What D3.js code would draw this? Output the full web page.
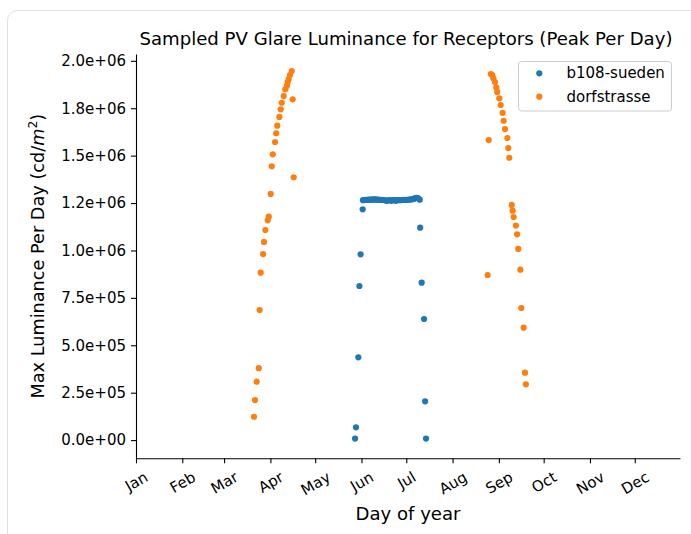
<!DOCTYPE html>
<html>
<head>
<meta charset="utf-8">
<script src="https://cdn.jsdelivr.net/npm/d3@7"></script>
<style>
  html, body { margin: 0; padding: 0; background: #fff; }
  svg { display: block; font-family: "DejaVu Sans", sans-serif; }
</style>
</head>
<body>
<svg id="chart" width="691" height="534"></svg>
<script>
// ---------------- data ----------------
const monthLabels = ["Jan","Feb","Mar","Apr","May","Jun","Jul","Aug","Sep","Oct","Nov","Dec"];
const monthStartDays = [0,31,59,90,120,151,181,212,243,273,304,334];
const yTickValues = [0,250000,500000,750000,1000000,1250000,1500000,1750000,2000000];
const yTickLabels = ["0.0e+00","2.5e+05","5.0e+05","7.5e+05","1.0e+06","1.2e+06","1.5e+06","1.8e+06","2.0e+06"];
const seriesNames = ["b108-sueden","dorfstrasse"];
const seriesColors = ["#1f77b4","#ff7f0e"];

const blueDays = [146.7,147.3,148.9,149.6,150.4,151.8,
  152,153,154,155,156,157,158,159,160,161,162,163,164,165,166,167,168,169,170,
  171,172,173,174,175,176,177,178,179,180,181,182,183,184,185,186,187,188,189,190,
  190.3,191.3,192.9,193.6,194.2];
const blueValues = [8000,67500,436600,812600,979800,1217000,
  1265000,1266000,1267000,1267000,1268000,1268000,1268000,1269000,1269000,1268000,
  1268000,1267000,1267000,1266000,1266000,1264000,1262000,1264000,1266000,
  1262000,1265000,1266000,1262000,1265000,1266000,1265000,1266000,1267000,1266000,
  1267000,1267000,1268000,1269000,1270000,1272000,1276000,1277000,1275000,1268000,
  1120000,830000,638600,204600,8000];

const orangeDays = [
  79.0,79.7,80.8,82.2,82.8,83.5,85.1,85.7,86.6,88.2,88.9,90.2,90.9,91.6,93.1,93.9,
  94.6,96.0,96.9,97.6,98.9,100.0,101.1,101.6,102.3,103.1,104.3,104.9,105.6,
  235.5,236.2,237.6,238.6,239.3,240.4,241.3,241.9,243.3,244.2,245.5,246.2,247.1,
  248.7,249.3,250.0,251.6,252.2,252.9,254.4,255.2,256.0,257.4,258.0,259.6,260.5,261.1];
const orangeValues = [
  123000,211000,308000,379000,686000,883000,981000,1045000,1108000,1159000,1178000,
  1298000,1444000,1507000,1572000,1618000,1658000,1704000,1744000,1779000,1814000,
  1850000,1869000,1888000,1904000,1925000,1946000,1797000,1386000,
  870600,1582000,1930000,1925000,1908000,1888000,1860000,1836000,1802000,1767000,
  1726000,1684000,1640000,1593000,1540000,1489000,1240000,1210000,1176000,1131000,
  1085000,1008000,898500,696600,592700,355400,294200];

// ---------------- layout ----------------
(function () {
const svg = d3.select("#chart");
const mLeft = 136, mRight = 680, mTop = 54, mBottom = 458.3;
const tickFont = 15, labelFont = 18.1, yLabelFont = 17.7;

// frame
svg.append("rect")
  .attr("x", 7.5).attr("y", 10.5).attr("width", 720).attr("height", 560)
  .attr("rx", 10).attr("fill", "none").attr("stroke", "#e0e0e0").attr("stroke-width", 1);

const x = d3.scaleLinear().domain([0, 364.3]).range([mLeft, mRight]);
const y = d3.scaleLinear().domain([-96000, 2036000]).range([mBottom, mTop]);

// y axis
const yAxis = svg.append("g")
  .attr("transform", `translate(${mLeft},0)`)
  .call(d3.axisLeft(y).tickValues(yTickValues)
    .tickFormat((d, i) => yTickLabels[i]).tickSize(5).tickPadding(5).tickSizeOuter(0));
yAxis.selectAll("text").attr("font-size", tickFont).attr("fill", "#000")
  .attr("font-family", "DejaVu Sans");

// x axis
const xAxis = svg.append("g")
  .attr("transform", `translate(0,${mBottom})`)
  .call(d3.axisBottom(x).tickValues(monthStartDays)
    .tickFormat((d, i) => monthLabels[i]).tickSize(5).tickSizeOuter(0));
xAxis.selectAll("text")
  .attr("font-size", tickFont).attr("fill", "#000").attr("font-family", "DejaVu Sans")
  .attr("text-anchor", "middle").attr("dominant-baseline", "central")
  .attr("dy", null)
  .each(function () {
    const w = this.getComputedTextLength();
    const h = tickFont * 1.16;
    const bh = w * Math.sin(Math.PI / 6) + h * Math.cos(Math.PI / 6);
    const yc = 10 + bh / 2;
    d3.select(this).attr("y", 0).attr("transform", `translate(0,${yc}) rotate(-30)`);
  });

[xAxis, yAxis].forEach(g => {
  g.selectAll("path.domain").attr("stroke", "#000").attr("stroke-width", 1.1);
  g.selectAll(".tick line").attr("stroke", "#000").attr("stroke-width", 1.1);
});

// points
const blue = blueDays.map((d, i) => ({ d, v: blueValues[i] }));
const orange = orangeDays.map((d, i) => ({ d, v: orangeValues[i] }));
svg.append("g").selectAll("circle").data(blue).join("circle")
  .attr("cx", p => x(p.d)).attr("cy", p => y(p.v)).attr("r", 3.1)
  .attr("fill", seriesColors[0]);
svg.append("g").selectAll("circle").data(orange).join("circle")
  .attr("cx", p => x(p.d)).attr("cy", p => y(p.v)).attr("r", 3.1)
  .attr("fill", seriesColors[1]);

// title
svg.append("text").attr("x", 406).attr("y", 45)
  .attr("text-anchor", "middle").attr("font-size", labelFont).attr("fill", "#000")
  .text("Sampled PV Glare Luminance for Receptors (Peak Per Day)");

// x label
svg.append("text").attr("x", (mLeft + mRight) / 2).attr("y", 519.5)
  .attr("text-anchor", "middle").attr("font-size", labelFont).attr("fill", "#000")
  .text("Day of year");

// y label
const yl = svg.append("text")
  .attr("transform", `translate(44,${(mTop + mBottom) / 2}) rotate(-90)`)
  .attr("text-anchor", "middle").attr("font-size", yLabelFont).attr("fill", "#000");
yl.append("tspan").text("Max Luminance Per Day (cd/");
yl.append("tspan").attr("font-style", "italic").text("m");
yl.append("tspan").attr("font-size", yLabelFont * 0.7).attr("dy", -7).text("2");
yl.append("tspan").attr("dy", 7).text(")");

// legend
const lg = svg.append("g");
lg.append("rect").attr("x", 518.5).attr("y", 61.5).attr("width", 153).attr("height", 49.5)
  .attr("rx", 3).attr("fill", "#fff").attr("fill-opacity", 0.8)
  .attr("stroke", "#cccccc").attr("stroke-width", 1);
seriesNames.forEach((name, i) => {
  const cy = 73.3 + i * 23.4;
  lg.append("circle").attr("cx", 539.3).attr("cy", cy).attr("r", 3.1).attr("fill", seriesColors[i]);
  lg.append("text").attr("x", 566.5).attr("y", cy).attr("dominant-baseline", "central")
    .attr("font-size", tickFont).attr("fill", "#000").text(name);
});
})();
</script>
</body>
</html>
